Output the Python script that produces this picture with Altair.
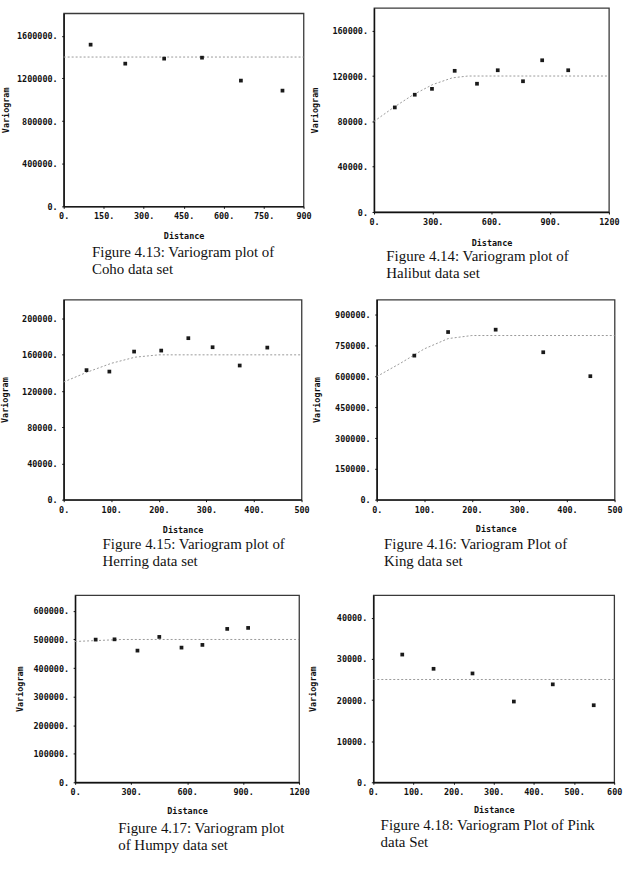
import altair as alt
import pandas as pd

# ---------------- data ----------------
coho_dist = [101, 231, 377, 519, 665, 821]
coho_vario = [1516000, 1338000, 1385000, 1394000, 1179000, 1085000]
coho_model_dist = [0, 900]
coho_model_vario = [1400000, 1400000]
coho_xticks = [0, 150, 300, 450, 600, 750, 900]
coho_yticks = [0, 400000, 800000, 1200000, 1600000]

halibut_dist = [106, 208, 296, 412, 526, 632, 761, 859, 992]
halibut_vario = [92300, 103500, 108700, 124600, 113200, 125100, 115400, 133900, 125100]
halibut_model_dist = [0, 100, 200, 300, 400, 480, 1200]
halibut_model_vario = [80000, 92300, 103500, 112500, 118400, 120000, 120000]
halibut_xticks = [0, 300, 600, 900, 1200]
halibut_yticks = [0, 40000, 80000, 120000, 160000]

herring_dist = [48, 96, 148, 205, 262, 313, 370, 428]
herring_vario = [143100, 141500, 163600, 164700, 178400, 168400, 148200, 168000]
herring_model_dist = [0, 50, 100, 150, 200, 500]
herring_model_vario = [130000, 141000, 150600, 157400, 160000, 160000]
herring_xticks = [0, 100, 200, 300, 400, 500]
herring_yticks = [0, 40000, 80000, 120000, 160000, 200000]

king_dist = [79, 150, 250, 350, 449]
king_vario = [702000, 817000, 828500, 718500, 601800]
king_model_dist = [0, 50, 100, 150, 200, 500]
king_model_vario = [600000, 665000, 735000, 785000, 800000, 800000]
king_xticks = [0, 100, 200, 300, 400, 500]
king_yticks = [0, 150000, 300000, 450000, 600000, 750000, 900000]

humpy_dist = [110, 211, 334, 451, 570, 682, 815, 927]
humpy_vario = [499500, 500500, 461000, 509000, 471500, 481000, 537000, 540500]
humpy_model_dist = [0, 250, 1200]
humpy_model_vario = [493000, 500000, 500000]
humpy_xticks = [0, 300, 600, 900, 1200]
humpy_yticks = [0, 100000, 200000, 300000, 400000, 500000, 600000]

pink_dist = [72, 150, 247, 350, 447, 549]
pink_vario = [31060, 27600, 26470, 19640, 23820, 18740]
pink_model_dist = [0, 600]
pink_model_vario = [25000, 25000]
pink_xticks = [0, 100, 200, 300, 400, 500, 600]
pink_yticks = [0, 10000, 20000, 30000, 40000]

captions = {
    "coho": ["Figure 4.13: Variogram plot of", "Coho data set"],
    "halibut": ["Figure 4.14: Variogram plot of", "Halibut data set"],
    "herring": ["Figure 4.15: Variogram plot of", "Herring data set"],
    "king": ["Figure 4.16:  Variogram Plot of", "King data set"],
    "humpy": ["Figure 4.17: Variogram plot", "of Humpy data set"],
    "pink": ["Figure 4.18:  Variogram Plot of Pink", "data Set"],
}

MONO = "DejaVu Sans Mono"


def panel(dist, vario, mdist, mvario, xmax, ymax, xticks, yticks,
          w, h, caption, cap_dx, cap_off, ytitle_x, xtitle_y):
    pts = pd.DataFrame({"d": dist, "v": vario})
    mod = pd.DataFrame({"d": mdist, "v": mvario})
    x_expr = "datum.value >= %d ? datum.label : datum.label + '.'" % xmax
    x = alt.X("d:Q", scale=alt.Scale(domain=[0, xmax], nice=False, zero=False),
              axis=alt.Axis(values=xticks, format="d", labelExpr=x_expr,
                            title="Distance", titleY=xtitle_y, titleBaseline="middle",
                            labelPadding=3.5, tickSize=2, labelFlush=False,
                            labelOverlap=False))
    y = alt.Y("v:Q", scale=alt.Scale(domain=[0, ymax], nice=False, zero=False),
              axis=alt.Axis(values=yticks, format="d", labelExpr="datum.label + '.'",
                            title="Variogram", titleX=ytitle_x, titleBaseline="middle",
                            titleAlign="center", titleAngle=270,
                            labelPadding=4.6, tickSize=2, labelOverlap=False))
    line = alt.Chart(mod).mark_line(strokeDash=[2, 2], color="#9a9a9a",
                                    strokeWidth=1).encode(x=x, y=y)
    dots = alt.Chart(pts).mark_square(size=14, color="#1a1a1a",
                                      opacity=1).encode(x=x, y=y)
    return alt.layer(line, dots).properties(
        width=w, height=h,
        title=alt.TitleParams(text=caption, orient="bottom", anchor="start",
                              frame="group", dx=cap_dx, offset=cap_off,
                              font="Liberation Serif", fontSize=15,
                              fontWeight="normal", lineHeight=17, color="#111"))


def spacer(w, h):
    return alt.Chart(pd.DataFrame({"s": [0]})).mark_point(
        size=1, opacity=0).encode(x=alt.value(0), y=alt.value(0)).properties(
        width=w, height=h,
        view=alt.ViewBackground(strokeWidth=0, strokeOpacity=0))


p1 = panel(coho_dist, coho_vario, coho_model_dist, coho_model_vario, 900, 1810000,
           coho_xticks, coho_yticks, 241, 194, captions["coho"], 28.4, 5, -58.3, 29.3)
p2 = panel(halibut_dist, halibut_vario, halibut_model_dist, halibut_model_vario, 1200, 180000,
           halibut_xticks, halibut_yticks, 236, 205, captions["halibut"], 12.3, 1.5, -59.4, 31)
p3 = panel(herring_dist, herring_vario, herring_model_dist, herring_model_vario, 500, 221000,
           herring_xticks, herring_yticks, 239, 201, captions["herring"], 39, 3, -59.3, 30)
p4 = panel(king_dist, king_vario, king_model_dist, king_model_vario, 500, 975000,
           king_xticks, king_yticks, 239, 201, captions["king"], 7.3, 3.7, -61, 29.3)
p5 = panel(humpy_dist, humpy_vario, humpy_model_dist, humpy_model_vario, 1200, 655000,
           humpy_xticks, humpy_yticks, 225, 188, captions["humpy"], 43.3, 6.3, -55.7, 28)
p6 = panel(pink_dist, pink_vario, pink_model_dist, pink_model_vario, 600, 45500,
           pink_xticks, pink_yticks, 242, 188, captions["pink"], 7.3, 4, -61, 27.4)

row1 = alt.hconcat(alt.vconcat(spacer(1, 1), p1, spacing=3.3), p2, spacing=-3.15)
row2 = alt.hconcat(p3, p4, spacing=0.55)
row3 = alt.hconcat(alt.hconcat(spacer(1, 1), p5, spacing=-50.5), p6, spacing=-2.85)

chart = alt.vconcat(row1, alt.vconcat(row2, row3, spacing=24), spacing=17).properties(
    padding={"left": 0, "top": 5, "right": 0, "bottom": 0},
    background="white",
).configure_view(stroke="#3a3a3a", strokeWidth=1.3).configure_axis(
    labelFont=MONO, labelFontSize=8.5, labelFontWeight="bold", labelColor="#111",
    titleFont=MONO, titleFontSize=8.5, titleFontWeight="bold", titleColor="#111",
    domainColor="#111", domainWidth=1.4, tickColor="#111", grid=False,
)

chart.save("out.html", embed_options={"renderer": "svg", "actions": False})
